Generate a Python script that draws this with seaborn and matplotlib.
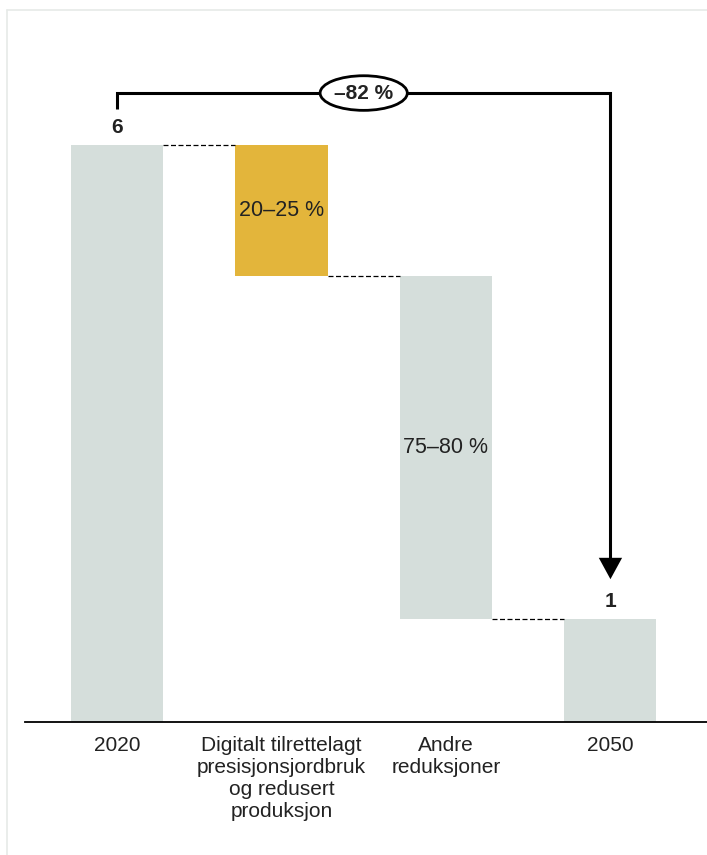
import matplotlib
matplotlib.use("Agg")
import matplotlib.pyplot as plt
from matplotlib.patches import Ellipse, FancyArrowPatch
from matplotlib.lines import Line2D
import seaborn as sns
import numpy as np
import pandas as pd

# Waterfall: emissions 2020 -> 2050
categories = ["2020",
              "Digitalt tilrettelagt\npresisjonsjordbruk\nog redusert\nproduksjon",
              "Andre\nreduksjoner",
              "2050"]
start_value = 6.0
end_value = 1.07
level_after_digital = 4.64
bar_tops = [start_value, start_value, level_after_digital, end_value]
bar_bottoms = [0.0, level_after_digital, end_value, 0.0]
inner_labels = ["", "20–25 %", "75–80 %", ""]
total_change = "–82 %"

grey = "#D5DEDB"
yellow = "#E3B53B"
bar_colors = [grey, yellow, grey, grey]
text_color = "#222222"

sns.set_theme(style="white")
plt.rcParams["font.family"] = ["Liberation Sans", "DejaVu Sans"]

fig = plt.figure(figsize=(7.07, 8.55), dpi=100)
W, H = 707, 855
ax = fig.add_axes([25 / W, 1 - 722 / H, 1 - 25 / W, (722 - 60) / H])

df = pd.DataFrame({
    "kategori": categories,
    "hoyde": np.array(bar_tops) - np.array(bar_bottoms),
    "bunn": bar_bottoms,
})
sns.barplot(data=df, x="kategori", y="hoyde", order=categories,
            bottom=df["bunn"].values, color=grey, width=0.56,
            saturation=1, errorbar=None, ax=ax)
for patch, c in zip(ax.patches, bar_colors):
    patch.set_facecolor(c)
    patch.set_edgecolor("none")

ax.set_xlim(-0.559, 3.587)
ax.set_ylim(0, (722 - 60) / 96.17)

# dashed connectors between bars
half = 0.28
levels = [start_value, level_after_digital, end_value]
for i, lv in enumerate(levels):
    ax.plot([i + half, i + 1 - half], [lv, lv], color="black",
            lw=0.9, ls=(0, (4, 2)), zorder=3)

# labels inside the change bars
for i, t in enumerate(inner_labels):
    if t:
        ax.text(i, (bar_tops[i] + bar_bottoms[i]) / 2, t, ha="center",
                va="center", fontsize=15.5, color=text_color)

# value labels above start and end bars
ax.text(0, start_value + 0.08, f"{start_value:.0f}", ha="center",
        va="bottom", fontsize=15, fontweight="bold", color=text_color)
ax.text(3, end_value + 0.08, f"{end_value:.0f}", ha="center",
        va="bottom", fontsize=15, fontweight="bold", color=text_color)

# bracket with arrow showing total change
top_y = 6.54
ax.plot([0, 0, 3, 3], [6.37, top_y, top_y, 1.62], color="black",
        lw=2.2, solid_joinstyle="miter", solid_capstyle="butt", zorder=4)
ax.add_patch(FancyArrowPatch((3, 1.65), (3, 1.456),
                             arrowstyle="-|>,head_length=0.55,head_width=0.3",
                             mutation_scale=28, color="black", lw=0,
                             zorder=5, clip_on=False))
ax.add_patch(Ellipse((1.5, top_y), 0.53, 0.36, facecolor="white",
                     edgecolor="black", lw=2.0, zorder=6, clip_on=False))
ax.text(1.5, top_y, total_change, ha="center", va="center", fontsize=15,
        fontweight="bold", color=text_color, zorder=7)

# axes styling
for s in ["top", "right", "left"]:
    ax.spines[s].set_visible(False)
ax.spines["bottom"].set_color("black")
ax.spines["bottom"].set_linewidth(1.3)
ax.set_yticks([])
ax.set_xlabel("")
ax.set_ylabel("")
ax.tick_params(axis="x", length=0, pad=10, labelsize=15, labelcolor=text_color)
for lbl in ax.get_xticklabels():
    lbl.set_linespacing(1.2)

# light frame lines
frame_c = "#E6EAE8"
fig.add_artist(Line2D([7 / W, 1], [1 - 10 / H, 1 - 10 / H],
                      color=frame_c, lw=1.2, transform=fig.transFigure))
fig.add_artist(Line2D([7 / W, 7 / W], [0, 1 - 10 / H],
                      color=frame_c, lw=1.2, transform=fig.transFigure))

fig.savefig("out.png", dpi=100)
